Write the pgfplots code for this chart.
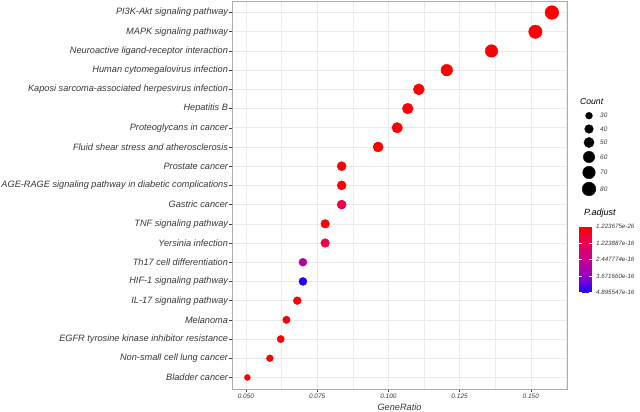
\documentclass[border=0pt]{standalone}
\usepackage{fontspec}
\setmainfont{Liberation Sans}
\usepackage{pgfplots}
\usepackage{pgfplotstable}
\pgfplotsset{compat=1.18}
\definecolor{gridc}{gray}{0.92}
\definecolor{framec}{gray}{0.68}
\definecolor{tickc}{gray}{0.25}
\definecolor{labc}{gray}{0.22}

\pgfplotstableread{
y ratio count padj
20 0.1574 81 0
19 0.1516 78 0
18 0.1362 70 0
17 0.1205 62 0
16 0.1107 57 0
15 0.1068 55 0
14 0.1031 53 0
13 0.0964 50 0
12 0.0836 43 0.05
11 0.0836 43 0.05
10 0.0836 43 1.0
9 0.0778 40 0.1
8 0.0778 40 1.0
7 0.0700 36 2.7
6 0.0700 36 4.85
5 0.0680 35 0.1
4 0.0642 33 0.1
3 0.0622 32 0.1
2 0.0584 30 0.05
1 0.0505 26 0.05
}\datatable

\pgfplotstableread{
x y count
357 273.3 30
357 260.0 40
357 246.5 50
357 232.0 60
357 216.5 70
357 200.0 80
}\legtable

\begin{document}
\begin{tikzpicture}
\useasboundingbox (-232pt,-23pt) rectangle (408pt,389pt);
\begin{axis}[
  at={(0pt,0pt)}, anchor=south west,
  scale only axis, width=335pt, height=388pt,
  xmin=0.0451, xmax=0.1627, ymin=0.4, ymax=20.6,
  xtick={0.05,0.075,0.1,0.125,0.15},
  xticklabels={0.050,0.075,0.100,0.125,0.150},
  minor xtick={0.0625,0.0875,0.1125,0.1375,0.1625},
  ytick={1,...,20},
  yticklabels={Bladder cancer,Non-small cell lung cancer,EGFR tyrosine kinase inhibitor resistance,Melanoma,IL-17 signaling pathway,HIF-1 signaling pathway,Th17 cell differentiation,Yersinia infection,TNF signaling pathway,Gastric cancer,AGE-RAGE signaling pathway in diabetic complications,Prostate cancer,Fluid shear stress and atherosclerosis,Proteoglycans in cancer,Hepatitis B,Kaposi sarcoma-associated herpesvirus infection,Human cytomegalovirus infection,Neuroactive ligand-receptor interaction,MAPK signaling pathway,PI3K-Akt signaling pathway},
  grid=both,
  major grid style={draw=gridc, line width=0.55pt},
  minor grid style={draw=gridc, line width=0.35pt},
  axis line style={draw=framec, line width=0.7pt},
  tick align=outside, tick pos=left,
  major tick length=3pt, minor tick length=0pt,
  major tick style={draw=tickc, line width=0.5pt},
  /pgf/number format/assume math mode=true,
  xticklabel style={font=\fontsize{6.5}{7}\selectfont\itshape, text=labc, inner sep=2pt},
  yticklabel style={font=\fontsize{9.2}{10}\selectfont\itshape, text=labc, inner sep=0.8pt},
  xlabel={GeneRatio},
  xlabel style={at={(axis description cs:0.5,0)}, anchor=center, yshift=-18pt, font=\fontsize{9.2}{10}\selectfont\itshape, text=labc},
  colormap={padj}{rgb255=(255,0,0) rgb255=(232,0,88) rgb255=(198,0,142) rgb255=(150,0,200) rgb255=(30,0,255)},
  point meta min=0, point meta max=4.895547,
  colorbar,
  colorbar style={
    at={(338.7pt,162.3pt)}, anchor=north west,
    width=12.7pt, height=66pt,
    y dir=reverse,
    ytick={0,1.223887,2.447774,3.671660,4.895547},
    yticklabels={1.223675e-26,1.223887e-16,2.447774e-16,3.671660e-16,4.895547e-16},
    yticklabel style={font=\fontsize{6.2}{7}\selectfont\itshape, text=labc, inner sep=1pt, xshift=3pt},
    major tick length=2.5pt, tick align=inside,
    major tick style={draw=white, line width=0.5pt},
    axis line style={draw=none},
  },
]
\addplot[scatter, only marks, mark=*,
  mark options={draw=none},
  scatter/use mapped color={draw=mapped color, fill=mapped color},
  visualization depends on={sqrt(2.76*\thisrow{count}-35.8)/2 \as \rad},
  scatter/@pre marker code/.append style={/tikz/mark size=\rad pt},
  point meta=\thisrow{padj}]
  table[x=ratio, y=y] {\datatable};
\end{axis}

\begin{axis}[
  at={(340pt,150pt)}, anchor=south west,
  scale only axis, width=68pt, height=140pt,
  xmin=340, xmax=408, ymin=150, ymax=290,
  hide axis, clip=false,
  /pgf/number format/assume math mode=true,
]
\addplot[scatter, only marks, mark=*,
  scatter/use mapped color={draw=black, fill=black},
  visualization depends on={sqrt(2.76*\thisrow{count}-35.8)/2 \as \rad},
  scatter/@pre marker code/.append style={/tikz/mark size=\rad pt},
  point meta=\thisrow{count}]
  table[x=x, y=y] {\legtable};
\addplot[only marks, mark=none,
  point meta=\thisrow{count},
  nodes near coords,
  nodes near coords style={anchor=west, inner sep=0pt, text=labc, font=\fontsize{6.5}{7}\selectfont\itshape}]
  table[x expr=\thisrow{x}+11, y=y] {\legtable};
\node[anchor=west, inner sep=0pt, font=\fontsize{8.6}{10}\selectfont\itshape, text=black] at (axis cs:348,287) {Count};
\node[anchor=west, inner sep=0pt, font=\fontsize{9}{10}\selectfont\itshape, text=black] at (axis cs:352,176) {P.adjust};
\end{axis}
\end{tikzpicture}
\end{document}
